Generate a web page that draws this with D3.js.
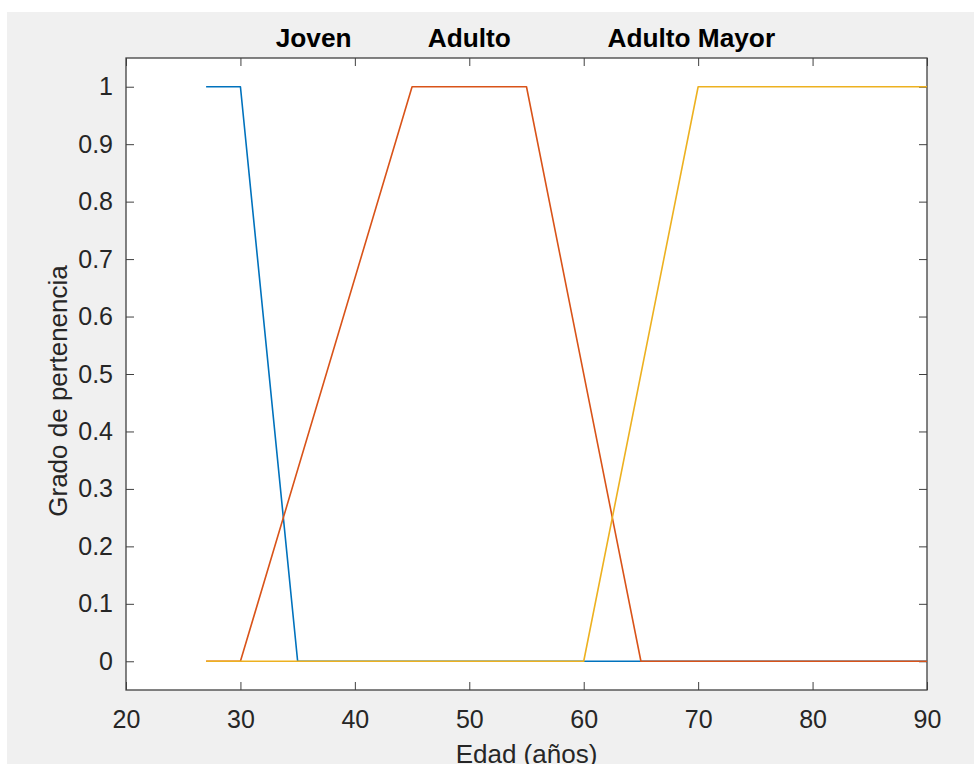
<!DOCTYPE html>
<html>
<head>
<meta charset="utf-8">
<script src="https://cdn.jsdelivr.net/npm/d3@7"></script>
<style>
  html, body { margin: 0; padding: 0; background: #ffffff; }
  svg { display: block; font-family: "Liberation Sans", Arial, Helvetica, sans-serif; }
</style>
</head>
<body>
<svg id="chart" width="974" height="764"></svg>
<script>
// Membership functions for the age fuzzy sets (edad, grado)
const jovenX = [27, 30, 35, 90];
const jovenY = [1, 1, 0, 0];
const adultoX = [27, 30, 45, 55, 65, 90];
const adultoY = [0, 0, 1, 1, 0, 0];
const mayorX = [27, 60, 70, 90];
const mayorY = [0, 0, 1, 1];

const seriesNames = ["Joven", "Adulto", "Adulto Mayor"];
const seriesColors = ["#0072BD", "#D95319", "#EDB120"];
const titleCenters = [36.4, 50.0, 69.4]; // x-position (años) of each set title

const xTicks = [20, 30, 40, 50, 60, 70, 80, 90];
const yTicks = [0, 0.1, 0.2, 0.3, 0.4, 0.5, 0.6, 0.7, 0.8, 0.9, 1];
const xLabel = "Edad (años)";
const yLabel = "Grado de pertenencia";

const svg = d3.select("#chart");
const W = 974, H = 764;
const mLeft = 126, mRight = 927, mTop = 58, mBottom = 690;

// figure background
svg.append("rect").attr("x", 7).attr("y", 12).attr("width", W - 7).attr("height", H - 12).attr("fill", "#f0f0f0");

const x = d3.scaleLinear().domain([20, 90]).range([mLeft, mRight]);
const y = d3.scaleLinear().domain([-0.05, 1.05]).range([mBottom, mTop]);

// axes area
svg.append("rect").attr("x", mLeft).attr("y", mTop).attr("width", mRight - mLeft).attr("height", mBottom - mTop).attr("fill", "#ffffff");

const tickLen = 8;
const axisColor = "#404040";
const textColor = "#262626";

function styleAxis(g) {
  g.select(".domain").remove();
  g.selectAll(".tick line").attr("stroke", axisColor).attr("stroke-width", 1);
  g.selectAll(".tick text").attr("fill", textColor).attr("font-size", 25).attr("font-family", "Liberation Sans, Arial, sans-serif");
}

// bottom axis (inward ticks)
const gx = svg.append("g").attr("transform", `translate(0,${mBottom})`)
  .call(d3.axisBottom(x).tickValues(xTicks).tickFormat(d3.format("d")).tickSizeInner(-tickLen).tickSizeOuter(0).tickPadding(20));
styleAxis(gx);
gx.selectAll(".tick text").attr("dy", "0.71em");
// top mirror ticks
const gxt = svg.append("g").attr("transform", `translate(0,${mTop})`)
  .call(d3.axisTop(x).tickValues(xTicks).tickFormat("").tickSizeInner(-tickLen).tickSizeOuter(0));
styleAxis(gxt);

// left axis
const gy = svg.append("g").attr("transform", `translate(${mLeft},0)`)
  .call(d3.axisLeft(y).tickValues(yTicks).tickFormat(d => d === 0 || d === 1 ? d3.format("d")(d) : d3.format(".1f")(d)).tickSizeInner(-tickLen).tickSizeOuter(0).tickPadding(13));
styleAxis(gy);
// right mirror ticks
const gyr = svg.append("g").attr("transform", `translate(${mRight},0)`)
  .call(d3.axisRight(y).tickValues(yTicks).tickFormat("").tickSizeInner(-tickLen).tickSizeOuter(0));
styleAxis(gyr);

// box
svg.append("rect").attr("x", mLeft).attr("y", mTop).attr("width", mRight - mLeft).attr("height", mBottom - mTop)
  .attr("fill", "none").attr("stroke", axisColor).attr("stroke-width", 1.3);

// membership lines
const line = d3.line().x(d => x(d[0])).y(d => y(d[1]));
const series = [
  d3.zip(jovenX, jovenY),
  d3.zip(adultoX, adultoY),
  d3.zip(mayorX, mayorY)
];
series.forEach((pts, i) => {
  svg.append("path").datum(pts).attr("d", line)
    .attr("fill", "none").attr("stroke", seriesColors[i]).attr("stroke-width", 1.6)
    .attr("stroke-linejoin", "round");
});

// set titles
seriesNames.forEach((name, i) => {
  svg.append("text").attr("transform", `translate(${x(titleCenters[i])},47) scale(1.05,1)`)
    .attr("text-anchor", "middle").attr("font-size", 25).attr("font-weight", "bold")
    .attr("fill", "#000000").text(name);
});

// axis labels
svg.append("text").attr("x", (mLeft + mRight) / 2).attr("y", 763)
  .attr("text-anchor", "middle").attr("font-size", 26).attr("fill", textColor).text(xLabel);
svg.append("text").attr("transform", `translate(67,${(mTop + mBottom) / 2 + 17}) rotate(-90)`)
  .attr("text-anchor", "middle").attr("font-size", 26).attr("fill", textColor).text(yLabel);
</script>
</body>
</html>
